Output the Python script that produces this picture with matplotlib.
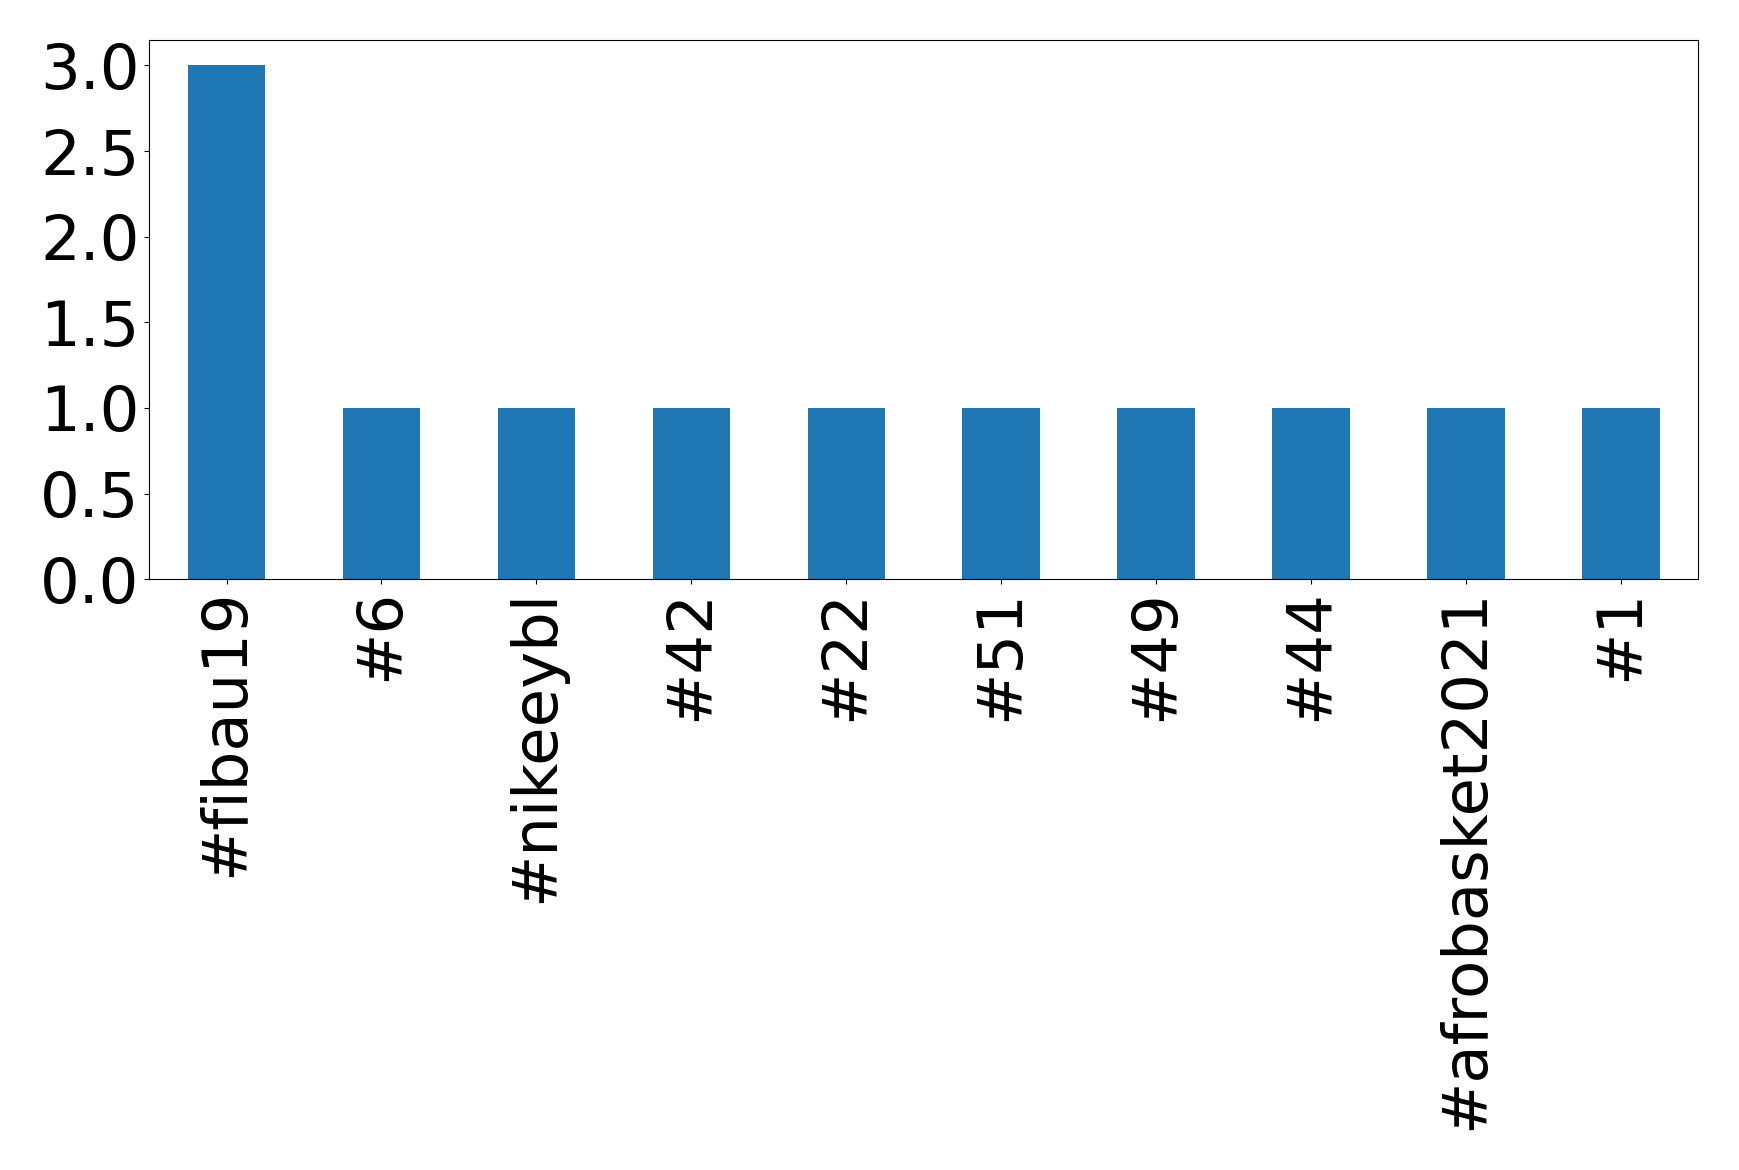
import matplotlib
matplotlib.use("Agg")
import matplotlib.pyplot as plt
import pandas as pd

tags = ["#fibau19", "#6", "#nikeeybl", "#42", "#22", "#51", "#49", "#44",
        "#afrobasket2021", "#1"]
counts = [3, 1, 1, 1, 1, 1, 1, 1, 1, 1]

s = pd.Series(counts, index=tags)

fig = plt.figure(figsize=(17.39, 11.70), dpi=100)
ax = fig.add_axes([0.0857, 0.505, 0.891, 0.461])
s.plot(kind="bar", ax=ax, fontsize=45)

fig.savefig("out.png", dpi=100)
